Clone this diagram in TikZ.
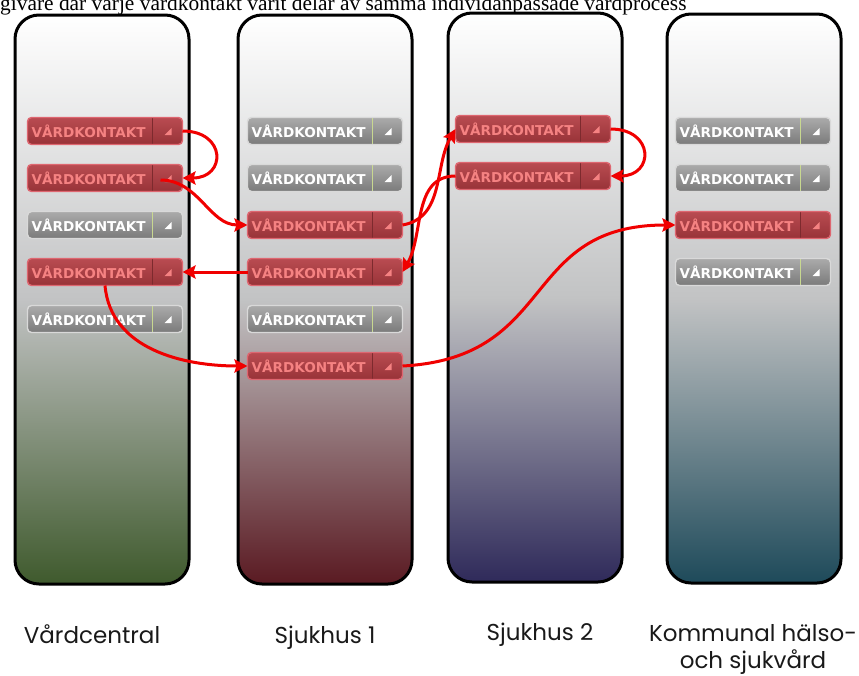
\documentclass[tikz,border=0pt]{standalone}
\usepackage{fontspec}
\setmainfont{Liberation Serif}
\newfontfamily\knappfont{DejaVu Sans}
\newfontfamily\etikettfont{Poppins}
\usetikzlibrary{positioning,arrows.meta,shapes}

\definecolor{vcgreen}{HTML}{3F5A2D}
\definecolor{sjred}{HTML}{5A1A22}
\definecolor{sjblue}{HTML}{2F2A5A}
\definecolor{kateal}{HTML}{1E4A5A}
\definecolor{colmid}{HTML}{C2C3C4}
\definecolor{btnred}{HTML}{B33C42}
\definecolor{btnredlt}{HTML}{DE6670}
\definecolor{btntxt}{HTML}{F58282}
\definecolor{btnline}{HTML}{C8D890}
\definecolor{pilred}{HTML}{F00000}

\tikzstyle{colbox}=[rectangle, rounded corners=24pt, draw=black, line width=3pt, top color=white,
minimum width=174pt, minimum height=569pt]
\tikzstyle{vkbox}=[rectangle, rounded corners=4pt, line width=1.4pt, minimum height=27pt, outer sep=0pt,
inner ysep=0pt, inner xsep=4pt, text width=147pt, align=left, font=\knappfont\bfseries\fontsize{13.6}{14}\selectfont]
\tikzstyle{vkred}=[vkbox, draw=btnredlt, top color=btnred!92!white, bottom color=btnred!85!black, text=btntxt,
path picture={
  \draw[btnred!70!black, line width=0.8pt] ([xshift=-30pt]path picture bounding box.north east) -- ([xshift=-30pt]path picture bounding box.south east);
  \fill[btntxt, sharp corners] ([xshift=-11pt,yshift=-4pt]path picture bounding box.east) -- ++(0,7) -- ++(-7,-7) -- cycle;
}]
\tikzstyle{vkgray}=[vkbox, draw=black!15, top color=black!33, bottom color=black!52, text=white,
path picture={
  \draw[btnline, line width=0.8pt] ([xshift=-30pt]path picture bounding box.north east) -- ([xshift=-30pt]path picture bounding box.south east);
  \fill[white, sharp corners] ([xshift=-11pt,yshift=-4pt]path picture bounding box.east) -- ++(0,7) -- ++(-7,-7) -- cycle;
}]
\tikzstyle{pil}=[-{Stealth[length=13pt,width=13pt,inset=2pt]}, draw=pilred, line width=3pt]
\tikzstyle{etikett}=[anchor=base, font=\etikettfont\fontsize{23}{27}\selectfont, align=center, text=black!90]

\begin{document}
\begin{tikzpicture}[x=1pt, y=1pt, node distance=20pt]

    \useasboundingbox (0,0) rectangle (859,-675);

    \node (rubrik) [anchor=base west, inner sep=0pt, font=\fontsize{21.4}{22}\selectfont] at (0,-10)
    {givare där varje vårdkontakt varit delar av samma individanpassade vårdprocess};

% kolumner
    \node (vcol) [colbox, bottom color=vcgreen, middle color=colmid] at (102,-299.5) {};
    \node (s1col) [colbox, bottom color=sjred, middle color=colmid] at (325,-299.5) {};
    \node (s2col) [colbox, bottom color=sjblue, middle color=colmid] at (535,-297.5) {};
    \node (kcol) [colbox, bottom color=kateal, middle color=colmid] at (754,-298.5) {};

% Vardcentral
    \node (vc1) [vkred] at (105,-131) {VÅRDKONTAKT};
    \node (vc2) [vkred, below=of vc1] {VÅRDKONTAKT};
    \node (vc3) [vkgray, below=of vc2] {VÅRDKONTAKT};
    \node (vc4) [vkred, below=of vc3] {VÅRDKONTAKT};
    \node (vc5) [vkgray, below=of vc4] {VÅRDKONTAKT};

% Sjukhus 1
    \node (sa1) [vkgray] at (325,-131) {VÅRDKONTAKT};
    \node (sa2) [vkgray, below=of sa1] {VÅRDKONTAKT};
    \node (sa3) [vkred, below=of sa2] {VÅRDKONTAKT};
    \node (sa4) [vkred, below=of sa3] {VÅRDKONTAKT};
    \node (sa5) [vkgray, below=of sa4] {VÅRDKONTAKT};
    \node (sa6) [vkred, below=of sa5] {VÅRDKONTAKT};

% Sjukhus 2
    \node (sb1) [vkred] at (533,-129) {VÅRDKONTAKT};
    \node (sb2) [vkred, below=of sb1] {VÅRDKONTAKT};

% Kommunal
    \node (ko1) [vkgray] at (753,-131) {VÅRDKONTAKT};
    \node (ko2) [vkgray, below=of ko1] {VÅRDKONTAKT};
    \node (ko3) [vkred, below=of ko2] {VÅRDKONTAKT};
    \node (ko4) [vkgray, below=of ko3] {VÅRDKONTAKT};

% etiketter
    \node (lvc) [etikett] at (92,-643) {Vårdcentral};
    \node (ls1) [etikett] at (325,-643) {Sjukhus 1};
    \node (ls2) [etikett] at (540,-640) {Sjukhus 2};
    \node (lko) [etikett] at (753,-668) {Kommunal hälso-\\och sjukvård};

% pilar
   \draw[pil] (vc1.east) to[out=0, in=0, looseness=2.4] (vc2.east);
   \draw[pil] ([xshift=-22pt,yshift=-2pt]vc2.east) to[out=0, in=180] (sa3.west);
   \draw[pil] (sa4.west) -- (vc4.east);
   \draw[pil] (vc4.south) to[out=-85, in=180] (sa6.west);
   \draw[pil] (sa3.east) to[out=10, in=-120] (sb1.west);
   \draw[pil] (sb1.east) to[out=0, in=0, looseness=2.4] (sb2.east);
   \draw[pil] (sb2.west) to[out=180, in=60] (sa4.east);
   \draw[pil] (sa6.east) to[out=3, in=180, looseness=1.3] (ko3.west);

\end{tikzpicture}
\end{document}
